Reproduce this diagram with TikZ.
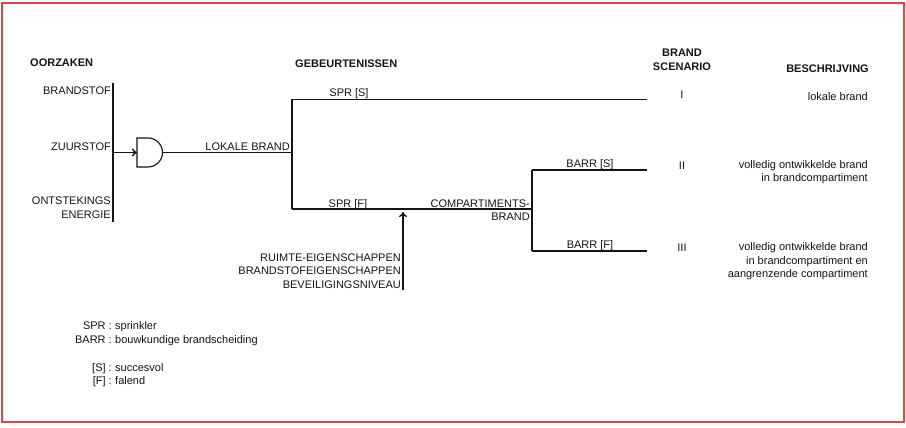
\documentclass[tikz,border=0pt]{standalone}
\usepackage{fontspec}
\setmainfont{Liberation Sans}
\usetikzlibrary{arrows.meta}
\definecolor{framered}{rgb}{0.86, 0.27, 0.27}
\definecolor{inkgray}{rgb}{0.08, 0.08, 0.08}
\tikzset{
  lbl/.style={font=\fontsize{11}{13.5}\selectfont, inner sep=0pt, text=inkgray},
  hdr/.style={lbl, font=\fontsize{11}{14}\selectfont\bfseries},
  wire/.style={line width=1.4pt, draw=inkgray},
  pointer/.style={wire, -{To[length=5pt, width=8pt]}},
}

\begin{document}
\begin{tikzpicture}[x=1pt,y=-1pt]
    \useasboundingbox (0,0) rectangle (906,428);

    % Frame
    \draw[framered, line width=1.6pt] (2,3) rectangle (904,422);

    % Headings
    \node (oorzaken) at (30,67) [hdr, anchor=base west] {OORZAKEN};
    \node (gebeurt) at (295,68) [hdr, anchor=base west] {GEBEURTENISSEN};
    \node (scenario) at (682,60) [hdr, align=center] {BRAND\\SCENARIO};
    \node (beschr) at (869,73) [hdr, anchor=base east] {BESCHRIJVING};

    % Causes
    \coordinate (bartop) at (113,83);
    \coordinate (barbot) at (113,222);
    \draw[wire] (bartop) -- (barbot);
    \node (brandstof) at (111,95) [lbl, anchor=base east] {BRANDSTOF};
    \node (zuurstof) at (111,150) [lbl, anchor=base east] {ZUURSTOF};
    \node (ontsteking) at (111,207.5) [lbl, anchor=east, align=right] {ONTSTEKINGS\\ENERGIE};

    % AND gate
    \coordinate (barmid) at (113,152.5);
    \coordinate (gatein) at (137,152.5);
    \coordinate (gateout) at (162.5,152.5);
    \draw[wire, line width=1.1pt] (137,138) -- (148,138) arc[start angle=90, end angle=-90, radius=14.5pt] -- (137,167) -- cycle;
    \draw[pointer] (barmid) -- (gatein);

    % Lokale brand
    \coordinate (lokmid) at (292,152.5);
    \draw[wire] (gateout) -- (lokmid);
    \node (lokale) at (290,150.5) [lbl, anchor=base east] {LOKALE BRAND};

    % Sprinkler branch
    \coordinate (sprtop) at (292,99.5);
    \coordinate (sprbot) at (292,209);
    \coordinate (endI) at (647,99.5);
    \coordinate (compmid) at (532,209);
    \draw[wire] (sprtop) -- (sprbot);
    \draw[wire] (sprtop) -- (endI);
    \draw[wire] (sprbot) -- (compmid);
    \node (sprs) at (349,96) [lbl, anchor=base] {SPR [S]};
    \node (sprf) at (348,207) [lbl, anchor=base] {SPR [F]};
    \node (compbrand) at (530,210) [lbl, anchor=east, align=right] {COMPARTIMENTS-\\BRAND};

    % Barrier branch
    \coordinate (barrtop) at (532,170);
    \coordinate (barrbot) at (532,251);
    \coordinate (endII) at (647,170);
    \coordinate (endIII) at (647,251);
    \draw[wire] (barrtop) -- (barrbot);
    \draw[wire] (barrtop) -- (endII);
    \draw[wire] (barrbot) -- (endIII);
    \node (barrs) at (590,167) [lbl, anchor=base] {BARR [S]};
    \node (barrf) at (590,248) [lbl, anchor=base] {BARR [F]};

    % Influences
    \coordinate (inflbot) at (403,290);
    \coordinate (infltop) at (403,212);
    \draw[pointer] (inflbot) -- (infltop);
    \node (invloed) at (401,271) [lbl, anchor=east, align=right] {RUIMTE-EIGENSCHAPPEN\\BRANDSTOFEIGENSCHAPPEN\\BEVEILIGINGSNIVEAU};

    % Scenarios
    \node (numI) at (682,99) [lbl, anchor=base] {I};
    \node (numII) at (682,169) [lbl, anchor=base] {II};
    \node (numIII) at (682,251) [lbl, anchor=base] {III};
    \node (descI) at (868,100) [lbl, anchor=base east] {lokale brand};
    \node (descII) at (868,172) [lbl, anchor=east, align=right] {volledig ontwikkelde brand\\in brandcompartiment};
    \node (descIII) at (868,261.5) [lbl, anchor=east, align=right] {volledig ontwikkelde brand\\in brandcompartiment en\\aangrenzende compartiment};

    % Legend
    \node (keyspr) at (112,329) [lbl, anchor=base east] {SPR :};
    \node (valspr) at (115,329) [lbl, anchor=base west] {sprinkler};
    \node (keybarr) at (112,343) [lbl, anchor=base east] {BARR :};
    \node (valbarr) at (115,343) [lbl, anchor=base west] {bouwkundige brandscheiding};
    \node (keys) at (112,371) [lbl, anchor=base east] {[S] :};
    \node (vals) at (115,371) [lbl, anchor=base west] {succesvol};
    \node (keyf) at (112,384) [lbl, anchor=base east] {[F] :};
    \node (valf) at (115,384) [lbl, anchor=base west] {falend};

\end{tikzpicture}
\end{document}
